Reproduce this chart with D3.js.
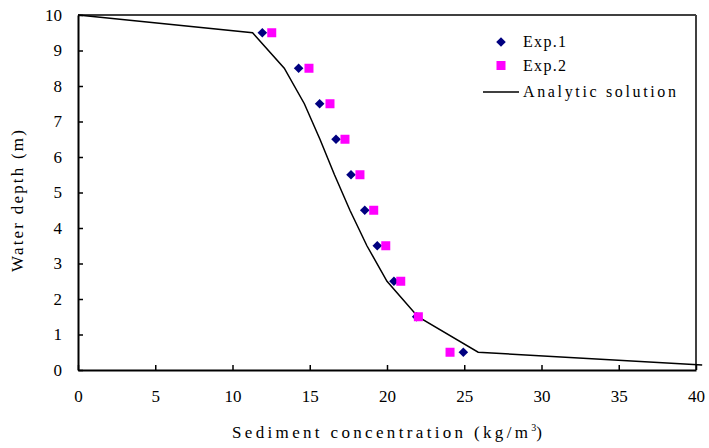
<html><head>
<meta charset="UTF-8">
<title>Sediment concentration profile</title>
<script src="https://cdnjs.cloudflare.com/ajax/libs/d3/7.8.4/d3.min.js"></script>
<style>
  body { margin: 0; background: #fff; }
</style>
</head>
<body>
<svg id="chart" width="709" height="448"></svg>
<script>
// depths (m) of the measured points
var depths = [9.5, 8.5, 7.5, 6.5, 5.5, 4.5, 3.5, 2.5, 1.5, 0.5];
// Exp.1 and Exp.2 sediment concentration (kg/m3)
var exp1 = [11.93, 14.28, 15.64, 16.70, 17.67, 18.56, 19.37, 20.45, 21.92, 24.94];
var exp2 = [12.54, 14.95, 16.31, 17.28, 18.25, 19.14, 19.92, 20.89, 22.03, 24.08];
// analytic solution polyline
var lineConc  = [0, 11.3, 13.35, 14.65, 15.66, 16.6, 17.6, 18.7, 20.0, 22.0, 25.9, 40.4];
var lineDepth = [10, 9.5, 8.5, 7.5, 6.5, 5.5, 4.5, 3.5, 2.5, 1.5, 0.5, 0.14];
var xTicks = [0, 5, 10, 15, 20, 25, 30, 35, 40];
var yTicks = [0, 1, 2, 3, 4, 5, 6, 7, 8, 9, 10];

var FONT = "Liberation Serif";
var svg = d3.select("#chart");
var plotL = 78, plotR = 696, plotT = 15, plotB = 370;

var x = d3.scaleLinear().domain([0, 40]).range([plotL, plotR]);
var y = d3.scaleLinear().domain([0, 10]).range([plotB, plotT]);

// frame: top and right
svg.append("line").attr("x1", plotL).attr("x2", plotR).attr("y1", plotT).attr("y2", plotT)
    .attr("stroke", "#404040").attr("stroke-width", 2);
svg.append("line").attr("x1", plotR).attr("x2", plotR).attr("y1", plotT).attr("y2", plotB)
    .attr("stroke", "#404040").attr("stroke-width", 2);

// x axis
var gx = svg.append("g").attr("transform", "translate(0," + plotB + ")")
    .call(d3.axisBottom(x).tickValues(xTicks).tickSize(-5).tickSizeOuter(0).tickPadding(20));
gx.attr("font-family", FONT).attr("font-size", 17);
gx.select(".domain").attr("stroke", "#000").attr("stroke-width", 2);
gx.selectAll(".tick line").attr("stroke", "#000").attr("stroke-width", 1.5);
gx.selectAll(".tick text").attr("font-family", FONT).attr("font-size", 17).attr("fill", "#000");

// y axis
var gy = svg.append("g").attr("transform", "translate(" + plotL + ",0)")
    .call(d3.axisLeft(y).tickValues(yTicks).tickSize(-5).tickSizeOuter(0).tickPadding(16));
gy.attr("font-family", FONT).attr("font-size", 17);
gy.select(".domain").attr("stroke", "#000").attr("stroke-width", 2);
gy.selectAll(".tick line").attr("stroke", "#000").attr("stroke-width", 1.5);
gy.selectAll(".tick text").attr("font-family", FONT).attr("font-size", 17).attr("fill", "#000");

// axis titles
var xt = svg.append("text").attr("x", 232).attr("y", 438)
    .attr("font-family", FONT).attr("font-size", 17);
xt.append("tspan").attr("textLength", 296).attr("lengthAdjust", "spacing").text("Sediment concentration (kg/m");
xt.append("tspan").attr("font-size", 10).attr("dy", -7).text("3");
xt.append("tspan").attr("dy", 7).text(")");

svg.append("text").attr("transform", "translate(23,201) rotate(-90)")
    .attr("text-anchor", "middle").attr("font-family", FONT).attr("font-size", 17)
    .attr("textLength", 142).attr("lengthAdjust", "spacing").text("Water depth (m)");

// analytic line
var lineData = lineConc.map(function(c, i) { return [c, lineDepth[i]]; });
svg.append("path").datum(lineData)
    .attr("d", d3.line().x(function(d) { return x(d[0]); }).y(function(d) { return y(d[1]); }))
    .attr("fill", "none").attr("stroke", "#000").attr("stroke-width", 1.5);

// Exp.1 diamonds
var diamond = d3.symbol().type(d3.symbolSquare).size(46)();
svg.selectAll(".e1").data(depths).enter().append("path").attr("class", "e1")
    .attr("d", diamond)
    .attr("transform", function(d, i) { return "translate(" + x(exp1[i]) + "," + y(d) + ") rotate(45)"; })
    .attr("fill", "#000080");

// Exp.2 squares
svg.selectAll(".e2").data(depths).enter().append("rect").attr("class", "e2")
    .attr("x", function(d, i) { return x(exp2[i]) - 4.5; })
    .attr("y", function(d) { return y(d) - 4.5; })
    .attr("width", 9).attr("height", 9)
    .attr("fill", "#ff00ff");

// legend
var lg = svg.append("g").attr("font-family", FONT).attr("font-size", 16);
lg.append("path").attr("d", diamond).attr("transform", "translate(501,42) rotate(45)").attr("fill", "#000080");
lg.append("rect").attr("x", 496.5).attr("y", 61).attr("width", 9).attr("height", 9).attr("fill", "#ff00ff");
lg.append("line").attr("x1", 483).attr("x2", 519).attr("y1", 92).attr("y2", 92)
    .attr("stroke", "#000").attr("stroke-width", 1.5);
lg.append("text").attr("x", 523).attr("y", 47)
    .attr("textLength", 43).attr("lengthAdjust", "spacing").text("Exp.1");
lg.append("text").attr("x", 523).attr("y", 71)
    .attr("textLength", 43).attr("lengthAdjust", "spacing").text("Exp.2");
lg.append("text").attr("x", 523).attr("y", 97)
    .attr("textLength", 153).attr("lengthAdjust", "spacing").text("Analytic solution");
</script>
</body>
</html>
